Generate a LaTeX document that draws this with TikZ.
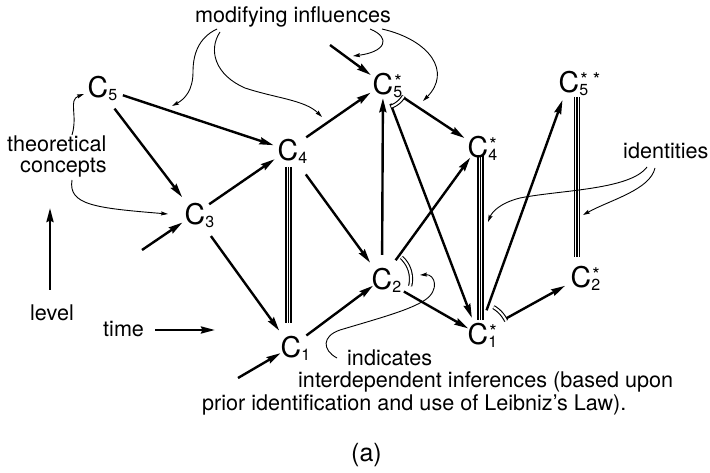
\documentclass[tikz,border=0pt]{standalone}
\usepackage{fontspec}
\setmainfont{TeX Gyre Heros}
\usetikzlibrary{arrows.meta,calc}
\newcommand\subf{\fontsize{16}{16}\selectfont}
\newcommand\starf{\fontsize{19}{19}\selectfont}
\newcommand\Csub[1]{C\rlap{\smash{\subf\raisebox{-3pt}{#1}}}}
\newcommand\Cstar[2]{C\rlap{\smash{\subf\raisebox{-3pt}{#1}}}\rlap{\smash{\starf\hspace{1pt}\raisebox{5.5pt}{#2}}}}
\begin{document}
\begin{tikzpicture}[x=1pt,y=-1pt,
  cn/.style={circle, inner sep=0pt, font=\fontsize{28.5}{28.5}\selectfont},
  lbl/.style={anchor=base west, inner sep=0pt, font=\fontsize{21.6}{21.6}\selectfont},
  arr/.style={line width=2.4pt, -{Stealth[length=14pt,width=7pt,inset=1.5pt]}},
  thinarr/.style={line width=0.9pt, -{Stealth[length=7pt,width=4pt,inset=1pt]}},
  dbl/.style={double, double distance=2pt, line width=1.1pt},
  idl/.style={line width=1.4pt}]
\useasboundingbox (0,0) rectangle (710,473);
% concept nodes
\node[cn] (C5) at (98,87) {\Csub{5}};
\node[cn] (C4) at (288,150) {\Csub{4}};
\node[cn] (C3) at (195,214) {\Csub{3}};
\node[cn] (C1) at (291,347) {\Csub{1}};
\node[cn] (C2) at (382,279) {\Csub{2}};
\node[cn] (C5s) at (383,84) {\Cstar{5}{*}};
\node[cn] (C4s) at (478,147) {\Cstar{4}{*}};
\node[cn] (C1s) at (478,334) {\Cstar{1}{*}};
\node[cn] (C2s) at (581,277) {\Cstar{2}{*}};
\node[cn] (C5ss) at (569,82) {\Cstar{5}{* *}};
% labels
\node[lbl] (mod) at (195,23) {modifying influences};
\node[lbl] (theo) at (7,152) {theoretical};
\node[lbl] (conc) at (20,173) {concepts};
\node[lbl] (lev) at (30,320) {level};
\node[lbl] (tim) at (103,337) {time};
\node[lbl] (ide) at (623,159) {identities};
\node[lbl] (ind1) at (347,365) {indicates};
\node[lbl] (ind2) at (298,387) {interdependent inferences (based upon};
\node[lbl] (ind3) at (202,410) {prior identification and use of Leibniz’s Law).};
\node[lbl, font=\fontsize{25}{25}\selectfont] (cap) at (351,461) {(a)};
% free ends
\coordinate (in3) at (142,250);
\coordinate (in1) at (238,378);
\coordinate (in5) at (330,45);
\coordinate (lv0) at (50,290);
\coordinate (lv1) at (50,208);
\coordinate (tm0) at (155,330);
\coordinate (tm1) at (215,330);
% level and time arrows
\draw[arr, line width=2.5pt] (lv0) -- (lv1);
\draw[arr, line width=2.5pt] (tm0) -- (tm1);
% main inference arrows
\draw[arr, shorten <=11pt] (C5) -- (C4);
\draw[arr, shorten <=12pt, shorten >=6pt] (C5) -- (C3);
\draw[arr, shorten <=2pt, shorten >=1pt] (C3) -- (C4);
\draw[arr, shorten <=12pt, shorten >=5pt] (C3) -- (C1);
\draw[arr] (in3) -- (C3);
\draw[arr, shorten <=7pt] (C4) -- (C5s);
\draw[arr, shorten <=15pt, shorten >=5pt] (C4) -- (C2);
\draw[arr, shorten <=4pt, shorten >=-4pt] (C1) -- (C2);
\draw[arr, shorten >=-3pt] (in1) -- (C1);
\draw[arr, shorten <=9pt, shorten >=-1pt] (C2) -- (C5s);
\draw[arr, shorten <=8pt, shorten >=-2pt] (C2) -- (C4s);
\draw[arr, shorten <=6pt, shorten >=2pt] (C5s) -- (C1s);
\draw[arr, shorten <=9pt, shorten >=1pt] (C5s) -- (C4s);
\draw[arr] (in5) -- (C5s);
\draw[arr, shorten <=10pt, shorten >=-4pt] (C2) -- (C1s);
\draw[arr, shorten <=17pt, shorten >=3pt] (C1s) -- (C2s);
\draw[arr, shorten <=10pt, shorten >=4pt] (C1s) -- (C5ss);
% identities (triple lines)
\foreach \d in {-2.6,0,2.6} {
  \draw[idl] ($(C4)+(\d+0.5,17)$) -- ($(C1)+(\d-2.5,-24)$);
  \draw[idl] ($(C4s)+(\d+2.5,8)$) -- ($(C1s)+(\d+2.5,-14)$);
  \draw[idl] ($(C5ss)+(\d+8,15)$) -- ($(C2s)+(\d-4,-20)$);
}
% interdependent-inference marks
\draw[dbl] plot[domain=70:30, samples=25, smooth] ([shift={(C5s)}]\x:24);
\draw[dbl] plot[domain=-48:14, samples=25, smooth] ([shift={(C2)}]\x:29);
\draw[dbl] plot[domain=-60:-25, samples=25, smooth] ([shift={(C1s)}]\x:31);
% annotation curves
\draw[thinarr] (217,29) .. controls (198,38) and (193,55) .. (193,72) .. controls (193,90) and (185,99) .. (172,106);
\draw[thinarr] (220,32) .. controls (208,50) and (215,75) .. (245,88) .. controls (275,98) and (305,100) .. (322,117);
\draw[thinarr] (370,29) .. controls (392,38) and (385,52) .. (353,56);
\draw[thinarr] (382,29) .. controls (430,40) and (452,72) .. (423,101);
\draw[thinarr] (72,135) .. controls (78,115) and (68,100) .. (84,94);
\draw[thinarr] (72,180) .. controls (68,205) and (95,208) .. (168,214);
\draw[thinarr] (647,167) .. controls (630,190) and (560,190) .. (520,198) .. controls (500,203) and (492,212) .. (488,222);
\draw[thinarr] (655,168) .. controls (650,190) and (610,200) .. (583,215);
\draw[thinarr] (337,358) .. controls (322,350) and (322,336) .. (340,330) .. controls (380,318) and (410,310) .. (425,300) .. controls (440,290) and (435,274) .. (420,275);
\end{tikzpicture}
\end{document}
